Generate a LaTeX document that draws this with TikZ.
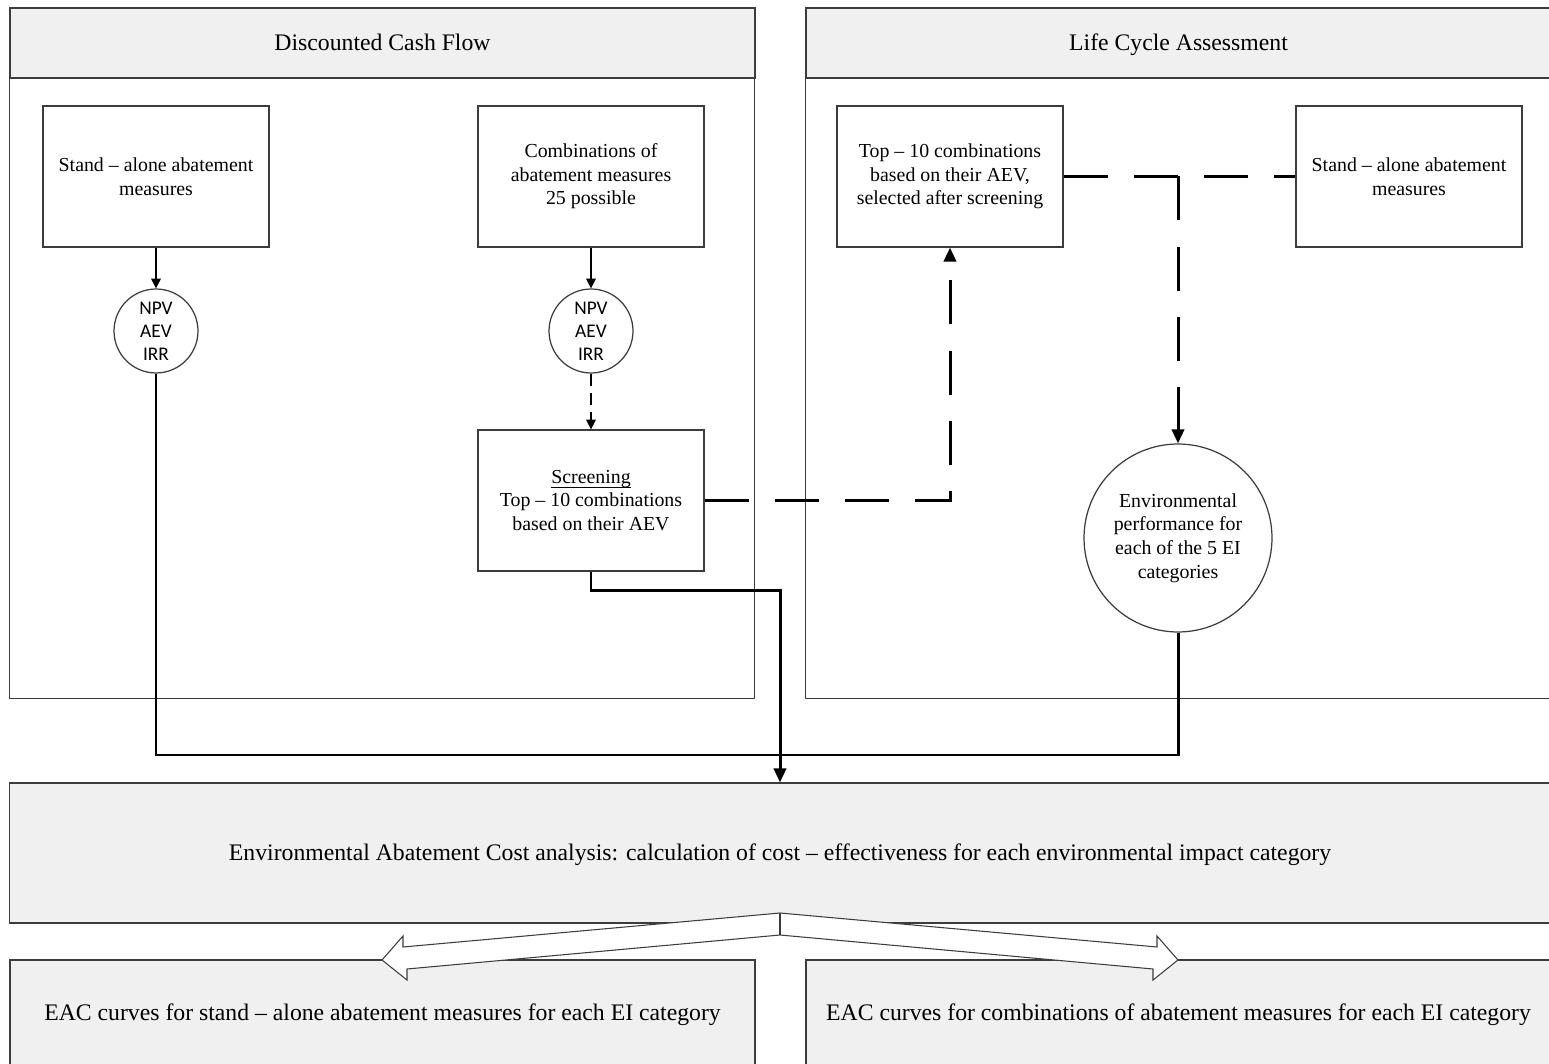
\documentclass[tikz,border=0pt]{standalone}
\usepackage{fontspec}
\setmainfont{Liberation Serif}
\newfontfamily\calibrifont{Carlito}
\usepackage{tikz}
\usetikzlibrary{arrows.meta, positioning}
\definecolor{panelgray}{HTML}{F0F0F0}
\definecolor{edgegray}{HTML}{3C3C3C}
\newcommand{\screenline}[1]{{\setbox0\hbox{#1}\rlap{\rule[-2.8pt]{\wd0}{0.5pt}}\box0}}

\begin{document}
\begin{tikzpicture}[
    x=0.02cm, y=-0.02cm,
    panelhead/.style = {rectangle, draw=edgegray, line width=0.7pt, fill=panelgray,
                        minimum width=14.9cm, minimum height=1.4cm, inner sep=0pt,
                        text height=9pt, text depth=0pt,
                        font=\fontsize{13.5}{16}\selectfont},
    measure/.style   = {rectangle, draw=edgegray, line width=0.7pt, fill=white,
                        minimum width=4.52cm, minimum height=2.82cm, inner sep=2pt,
                        align=center, font=\fontsize{11.3}{13.4}\selectfont},
    metric/.style    = {circle, draw=edgegray, line width=0.7pt, fill=white,
                        minimum size=1.68cm, inner sep=0pt, align=center,
                        font=\calibrifont\fontsize{11}{13}\selectfont},
    result/.style    = {rectangle, draw=edgegray, line width=0.7pt, fill=panelgray,
                        inner sep=0pt, text height=9pt, text depth=0pt,
                        font=\fontsize{13.5}{16}\selectfont},
    thin/.style      = {-{Triangle[length=5.5pt,width=5.5pt]}, line width=0.6pt, black},
    thick/.style     = {line width=1.7pt, black},
    longdash/.style  = {line width=1.7pt, black, dash pattern=on 25pt off 15pt},
    hollow/.style    = {fill=white, draw=edgegray, line width=0.6pt, line join=miter}
  ]
  \useasboundingbox (0,0) rectangle (1549,1064);

  % ── Panels ────────────────────────────────────────────────────────────────
  \node[panelhead] (dcfhead) at ( 382.5,43) {Discounted Cash Flow};
  \node[panelhead] (lcahead) at (1178.5,43) {Life Cycle Assessment};
  \draw[draw=edgegray, line width=0.7pt] (dcfhead.south west) rectangle ++(745,620);
  \draw[draw=edgegray, line width=0.7pt] (lcahead.south west) rectangle ++(745,620);

  % ── Discounted cash flow ───────────────────────────────────────────────────
  \node[measure] (alone)  at (156,176.5) {Stand – alone abatement\\measures};
  \node[measure] (combo)  at (591,176.5) {Combinations of\\abatement measures\\25 possible};
  \node[metric]  (npvA)   at (156,331) {NPV\\AEV\\IRR};
  \node[metric]  (npvB)   at (591,331) {NPV\\AEV\\IRR};
  \node[measure] (screen) at (591,500.5) {\screenline{Screening}\\Top – 10 combinations\\based on their AEV};

  % ── Life cycle assessment ──────────────────────────────────────────────────
  \node[measure] (topten) at (950,176.5) {Top – 10 combinations\\based on their AEV,\\selected after screening};
  \node[measure] (aloneR) at (1409,176.5) {Stand – alone abatement\\measures};
  \node[metric, minimum size=3.76cm, font=\fontsize{11.3}{13.4}\selectfont]
    (envperf) at (1178,538) {Environmental\\performance for\\each of the 5 EI\\categories};

  % ── Results ───────────────────────────────────────────────────────────────
  \node[result, minimum width=30.82cm, minimum height=2.8cm] (eac) at (780,853)
    {Environmental Abatement Cost analysis: calculation of cost – effectiveness for each environmental impact category};
  \node[result, minimum width=14.9cm, minimum height=2.12cm] (eacA) at ( 382.5,1013)
    {EAC curves for stand – alone abatement measures for each EI category};
  \node[result, minimum width=14.9cm, minimum height=2.12cm] (eacB) at (1178.5,1013)
    {EAC curves for combinations of abatement measures for each EI category};

  % ── Connectors ────────────────────────────────────────────────────────────
  \draw[thin] (alone) -- (npvA);
  \draw[thin] (combo) -- (npvB);
  \draw[thin, dash pattern=on 7pt off 4pt] (npvB) -- (screen);

  \coordinate (join) at (eac.north |- 0,755);
  \draw[thick] (npvA.south) |- (join);
  \draw[thick] (envperf.south) |- (join);
  \draw[thick, -{Triangle[length=8pt,width=7pt]}] (screen.south) -- ++(0,19) -| (eac.north);

  \draw[longdash, -{Triangle[length=8pt,width=7pt]}] (screen.east) -| (topten.south);
  \draw[longdash] (topten.east) -- (aloneR.west);
  \coordinate (split) at (topten.east -| envperf.north);
  \draw[longdash, -{Triangle[length=8pt,width=7pt]}] (split) -- (envperf.north);

  % two hollow arrows out of the analysis box
  \draw[hollow] (780,913) -- (1157,947) -- (1157,936) -- (1178,960) -- (1153,980) -- (1153,969)
    -- (780,935) -- (407,969) -- (407,980) -- (382,960) -- (403,936) -- (403,947) -- cycle;
  \draw[draw=edgegray, line width=0.6pt] (780,913) -- (780,935);

\end{tikzpicture}
\end{document}
